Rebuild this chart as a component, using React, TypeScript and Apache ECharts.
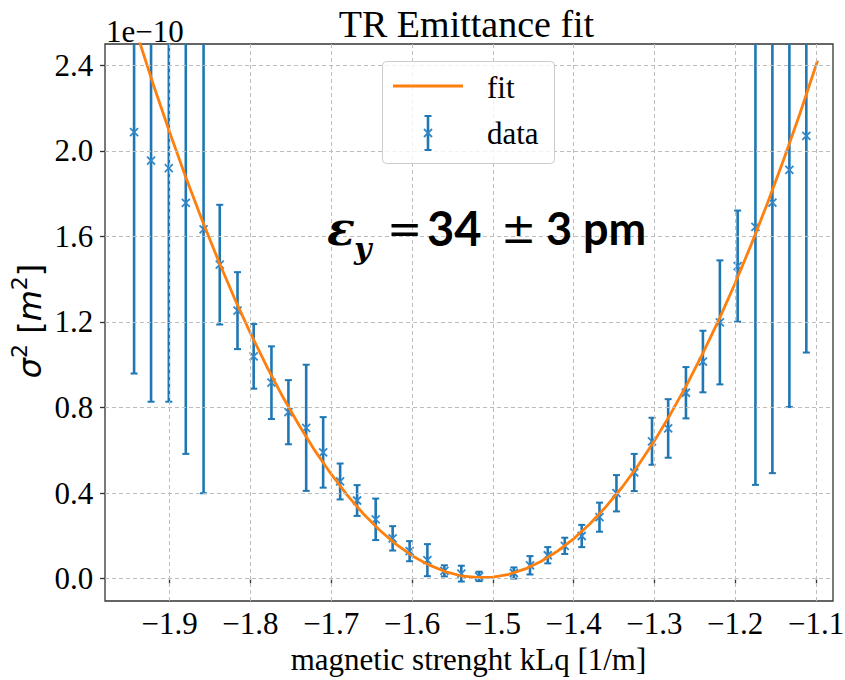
import React, { useEffect, useRef } from 'react';
import * as echarts from 'echarts';

// measured data (units of 1e-10 m^2)
const xData = [
  -1.944, -1.923, -1.901, -1.880, -1.858, -1.838, -1.816, -1.796, -1.774, -1.753,
  -1.731, -1.710, -1.689, -1.668, -1.645, -1.624, -1.603, -1.581, -1.560, -1.539,
  -1.517, -1.474, -1.454, -1.432, -1.411, -1.390, -1.368, -1.347, -1.325, -1.303,
  -1.283, -1.261, -1.240, -1.219, -1.197, -1.175, -1.154, -1.133, -1.112,
];
const yData = [
  2.088, 1.955, 1.919, 1.757, 1.633, 1.468, 1.253, 1.039, 0.916, 0.778,
  0.705, 0.590, 0.454, 0.365, 0.277, 0.188, 0.128, 0.086, 0.036, 0.023,
  0.010, 0.026, 0.062, 0.109, 0.153, 0.199, 0.287, 0.399, 0.496, 0.642,
  0.702, 0.869, 1.015, 1.198, 1.461, 1.645, 1.758, 1.911, 2.070,
];
const yErr = [
  1.129, 1.128, 1.092, 1.174, 1.234, 0.280, 0.180, 0.151, 0.170, 0.150,
  0.295, 0.165, 0.084, 0.072, 0.097, 0.057, 0.047, 0.075, 0.026, 0.037,
  0.022, 0.026, 0.043, 0.038, 0.038, 0.052, 0.068, 0.085, 0.087, 0.110,
  0.137, 0.120, 0.144, 0.290, 0.260, 1.207, 1.265, 1.109, 1.013,
];
// fit curve
const fitX = [
  -1.944, -1.92, -1.90, -1.88, -1.86, -1.84, -1.82, -1.80, -1.78, -1.76,
  -1.74, -1.72, -1.70, -1.68, -1.66, -1.64, -1.62, -1.60, -1.58, -1.56,
  -1.54, -1.52, -1.50, -1.48, -1.46, -1.44, -1.42, -1.40, -1.38, -1.36,
  -1.34, -1.32, -1.30, -1.28, -1.26, -1.24, -1.22, -1.20, -1.18, -1.16,
  -1.14, -1.12, -1.098,
];
const fitY = [
  2.589, 2.308, 2.087, 1.877, 1.678, 1.490, 1.313, 1.148, 0.993, 0.850,
  0.718, 0.597, 0.488, 0.389, 0.302, 0.226, 0.161, 0.107, 0.065, 0.034,
  0.013, 0.005, 0.007, 0.020, 0.045, 0.081, 0.128, 0.186, 0.255, 0.336,
  0.427, 0.530, 0.644, 0.770, 0.906, 1.054, 1.212, 1.382, 1.564, 1.756,
  1.960, 2.174, 2.423,
];
const xTicks = [-1.9, -1.8, -1.7, -1.6, -1.5, -1.4, -1.3, -1.2, -1.1];
const yTicks = [0, 0.4, 0.8, 1.2, 1.6, 2.0, 2.4];
const X_MIN = -1.98;
const X_MAX = -1.079;
const Y_MIN = -0.105;
const Y_MAX = 2.5;

const BLUE = '#1f77b4';
const MARK = '#3388c8';
const ORANGE = '#ff7f0e';
const SERIF = 'Liberation Serif';
const SANS = 'DejaVu Sans';

const fmtX = (v: number) => (v < 0 ? '\u2212' : '') + Math.abs(v).toFixed(1);
const fmtY = (v: number) => v.toFixed(1);

export default function App() {
  const ref = useRef<HTMLDivElement>(null);
  useEffect(() => {
    const chart = echarts.init(ref.current as HTMLDivElement, null, { renderer: 'svg' });
    const tickStyle = { color: '#333', width: 1.3 };
    const errData = xData.map((x, i) => [x, yData[i], yErr[i]]);
    const m = 4;
    const xMarker = (cx: number, cy: number, z?: number) => [
      { type: 'line', z, shape: { x1: cx - m, y1: cy - m, x2: cx + m, y2: cy + m }, style: { stroke: MARK, lineWidth: 1.8 } },
      { type: 'line', z, shape: { x1: cx - m, y1: cy + m, x2: cx + m, y2: cy - m }, style: { stroke: MARK, lineWidth: 1.8 } },
    ];
    const option: any = {
      animation: false,
      backgroundColor: '#ffffff',
      grid: {
        left: 105, right: 12, top: 44, bottom: 79,
        show: true, borderColor: '#333', borderWidth: 1.3, backgroundColor: 'transparent',
      },
      xAxis: {
        type: 'value', min: X_MIN, max: X_MAX,
        axisLine: { show: false },
        splitLine: { show: false },
        axisTick: { show: true, length: 5, customValues: xTicks, lineStyle: tickStyle },
        axisLabel: { show: false },
      },
      yAxis: {
        type: 'value', min: Y_MIN, max: Y_MAX,
        axisLine: { show: false },
        splitLine: { show: false },
        axisTick: { show: true, length: 5, customValues: yTicks, lineStyle: tickStyle },
        axisLabel: { show: false },
      },
      series: [
        {
          type: 'line', data: [], z: 1, silent: true,
          markLine: {
            silent: true, animation: false, symbol: ['none', 'none'],
            label: { show: false },
            lineStyle: { type: [4, 3], color: '#bdbdbd', width: 1 },
            data: [
              ...xTicks.map((v) => ({ xAxis: v })),
              ...yTicks.map((v) => ({ yAxis: v })),
            ],
          },
        },
        {
          type: 'custom', name: 'data', z: 3,
          data: errData,
          encode: { x: 0, y: 1 },
          renderItem: (params: any, api: any) => {
            const x = api.value(0);
            const y = api.value(1);
            const e = api.value(2);
            const cs = params.coordSys;
            const c = api.coord([x, y]);
            const t = api.coord([x, y + e]);
            const b = api.coord([x, y - e]);
            const top = Math.max(t[1], cs.y);
            const bot = Math.min(b[1], cs.y + cs.height);
            const children: any[] = [
              { type: 'line', shape: { x1: c[0], y1: top, x2: c[0], y2: bot }, style: { stroke: BLUE, lineWidth: 2.6 } },
            ];
            const cw = 3.5;
            if (t[1] >= cs.y) {
              children.push({ type: 'line', shape: { x1: c[0] - cw, y1: t[1], x2: c[0] + cw, y2: t[1] }, style: { stroke: BLUE, lineWidth: 2 } });
            }
            if (b[1] <= cs.y + cs.height) {
              children.push({ type: 'line', shape: { x1: c[0] - cw, y1: b[1], x2: c[0] + cw, y2: b[1] }, style: { stroke: BLUE, lineWidth: 2 } });
            }
            children.push(...xMarker(c[0], c[1]));
            return { type: 'group', children };
          },
        },
        {
          type: 'line', name: 'fit', z: 4,
          data: fitX.map((x, i) => [x, fitY[i]]),
          showSymbol: false, symbol: 'none', clip: true,
          lineStyle: { color: ORANGE, width: 2.8 },
        },
      ],
    };
    chart.setOption(option);

    const txt = (x: number, y: number, text: string, extra: any = {}, z = 40) => ({
      type: 'text', x, y, z,
      style: { text, fontFamily: SERIF, fontSize: 31, fill: '#000', align: 'left', verticalAlign: 'middle', ...extra },
    });
    const tickLabels: any[] = [];
    xTicks.forEach((v) => {
      const p = chart.convertToPixel({ gridIndex: 0 }, [v, Y_MIN]) as number[];
      tickLabels.push(txt(p[0], p[1] + 22.3, fmtX(v), { align: 'center' }));
    });
    yTicks.forEach((v) => {
      const p = chart.convertToPixel({ gridIndex: 0 }, [X_MIN, v]) as number[];
      tickLabels.push(txt(p[0] - 11.7, p[1], fmtY(v), { align: 'right' }));
    });

    const graphic: any[] = [
      ...tickLabels,
      txt(466.5, 24, 'TR Emittance fit', { fontSize: 38, align: 'center' }),
      txt(106, 31, '1e\u221210'),
      txt(468.5, 659, 'magnetic strenght kLq [1/m]', { align: 'center' }),
      {
        type: 'text', x: 27, y: 321, rotation: Math.PI / 2,
        style: {
          text: '{i|\u03c3}{sup|2}{r| [}{i|m}{sup|2}{r|]}',
          align: 'center', verticalAlign: 'middle',
          rich: {
            i: { fontFamily: SANS, fontStyle: 'italic', fontSize: 32, fill: '#000', lineHeight: 37, verticalAlign: 'bottom' },
            r: { fontFamily: SANS, fontSize: 32, fill: '#000', lineHeight: 37, verticalAlign: 'bottom' },
            sup: { fontFamily: SANS, fontSize: 22, fill: '#000', lineHeight: 37, verticalAlign: 'top' },
          },
        },
      },
      // legend
      {
        type: 'rect', z: 50,
        shape: { x: 382.5, y: 61.5, width: 172, height: 102, r: 4 },
        style: { fill: 'rgba(255,255,255,0.8)', stroke: '#cccccc', lineWidth: 1 },
      },
      { type: 'line', z: 51, shape: { x1: 393, y1: 86, x2: 463, y2: 86 }, style: { stroke: ORANGE, lineWidth: 2.8 } },
      txt(487, 87, 'fit', {}, 51),
      { type: 'line', z: 51, shape: { x1: 428, y1: 116, x2: 428, y2: 150 }, style: { stroke: BLUE, lineWidth: 2.6 } },
      { type: 'line', z: 51, shape: { x1: 424.5, y1: 116, x2: 431.5, y2: 116 }, style: { stroke: BLUE, lineWidth: 2 } },
      { type: 'line', z: 51, shape: { x1: 424.5, y1: 150, x2: 431.5, y2: 150 }, style: { stroke: BLUE, lineWidth: 2 } },
      ...xMarker(428, 133, 52),
      txt(487, 133, 'data', {}, 51),
      // emittance annotation
      txt(327, 229, '\u03b5', { fontFamily: 'DejaVu Serif', fontStyle: 'italic', fontWeight: 'bold', fontSize: 46 }, 52),
      txt(354, 248, 'y', { fontFamily: 'DejaVu Serif', fontStyle: 'italic', fontWeight: 'bold', fontSize: 30 }, 52),
      txt(387, 228, '=', { fontFamily: SANS, fontSize: 42 }, 52),
      txt(427, 228, '34', { fontFamily: 'Lato', fontWeight: 'bold', fontSize: 47 }, 52),
      txt(501, 228, '\u00b1', { fontFamily: SANS, fontSize: 42 }, 52),
      txt(546, 228, '3 pm', { fontFamily: 'Lato', fontWeight: 'bold', fontSize: 45 }, 52),
    ];
    chart.setOption({ graphic });
    return () => chart.dispose();
  }, []);
  return <div ref={ref} style={{ position: 'fixed', left: 0, top: 0, width: 845, height: 680, background: '#fff' }} />;
}
